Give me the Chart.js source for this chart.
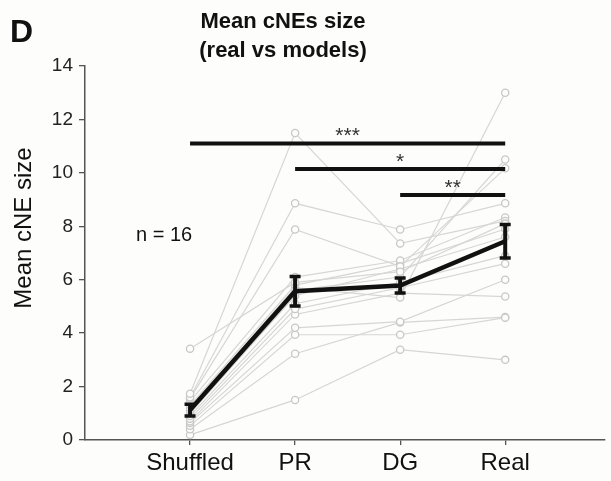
<!DOCTYPE html>
<html lang="en">

<head>
    <meta charset="UTF-8">
    <title>Mean cNEs size</title>
    <script src="https://cdn.jsdelivr.net/npm/chart.js"></script>
    <style>
        body {
            margin: 0;
            padding: 0;
            background: #fdfdfb;
        }

        .chart-box {
            position: relative;
            width: 611px;
            height: 481px;
        }
    </style>
</head>

<body>
    <div class="chart-box">
        <canvas id="sizeChart"></canvas>
    </div>

    <script>
        const categories = ['Shuffled', 'PR', 'DG', 'Real'];

        // one value per recording (n = 16), same order in every array
        const shuffledVals = [3.42, 1.73, 1.6, 1.55, 1.45, 1.3, 1.2, 1.1, 1.0, 0.9, 0.8, 0.7, 0.64, 0.53, 0.4, 0.19];
        const prVals = [5.9, 11.49, 8.86, 7.88, 6.1, 5.8, 5.7, 5.6, 5.4, 5.1, 4.9, 4.7, 4.2, 3.94, 3.23, 1.5];
        const dgVals = [6.3, 7.36, 7.88, 6.5, 6.72, 6.6, 5.33, 6.1, 6.4, 5.9, 5.7, 5.5, 4.43, 3.94, 4.4, 3.38];
        const realVals = [8.1, 8.2, 8.86, 10.17, 8.33, 7.9, 13.0, 10.5, 7.6, 6.9, 6.6, 5.37, 6.0, 4.58, 4.6, 3.0];

        // group mean and s.e.m.
        const meanVals = [1.12, 5.57, 5.78, 7.44];
        const semVals = [0.22, 0.55, 0.28, 0.63];

        // significance brackets
        const sigFrom = [1, 2, 3];
        const sigTo = [4, 4, 4];
        const sigLevel = [11.1, 10.14, 9.17];
        const sigText = ['***', '*', '**'];

        const yTicks = [0, 2, 4, 6, 8, 10, 12, 14];

        const font = 'Arial, "Liberation Sans", sans-serif';

        const subjectSets = shuffledVals.map((v, i) => ({
            data: [
                { x: 1, y: shuffledVals[i] },
                { x: 2, y: prVals[i] },
                { x: 3, y: dgVals[i] },
                { x: 4, y: realVals[i] }
            ],
            borderColor: '#d6d6d6',
            borderWidth: 1.2,
            pointRadius: 3.6,
            pointBorderColor: '#c8c8c8',
            pointBorderWidth: 1.3,
            pointBackgroundColor: '#fdfdfb',
            order: 2
        }));

        const meanSet = {
            data: meanVals.map((v, i) => ({ x: i + 1, y: v })),
            borderColor: '#111',
            borderWidth: 4.5,
            pointRadius: 0,
            order: 1
        };

        const sigSets = sigLevel.map((lv, i) => ({
            data: [{ x: sigFrom[i], y: lv }, { x: sigTo[i], y: lv }],
            borderColor: '#111',
            borderWidth: 4,
            borderCapStyle: 'butt',
            pointRadius: 0,
            order: 0
        }));

        // error bars, star labels and the free text around the plot
        const extras = {
            id: 'extras',
            afterDatasetsDraw(chart) {
                const ctx = chart.ctx;
                const xs = chart.scales.x;
                const ys = chart.scales.y;
                ctx.save();

                ctx.strokeStyle = '#111';
                ctx.lineCap = 'butt';
                meanVals.forEach((m, i) => {
                    const px = xs.getPixelForValue(i + 1);
                    const top = ys.getPixelForValue(m + semVals[i]);
                    const bot = ys.getPixelForValue(m - semVals[i]);
                    ctx.lineWidth = 4;
                    ctx.beginPath();
                    ctx.moveTo(px, top);
                    ctx.lineTo(px, bot);
                    ctx.stroke();
                    ctx.lineWidth = 3.5;
                    ctx.beginPath();
                    ctx.moveTo(px - 5.5, top);
                    ctx.lineTo(px + 5.5, top);
                    ctx.moveTo(px - 5.5, bot);
                    ctx.lineTo(px + 5.5, bot);
                    ctx.stroke();
                });

                ctx.fillStyle = '#333';
                ctx.font = '21px ' + font;
                ctx.textAlign = 'center';
                ctx.textBaseline = 'alphabetic';
                sigText.forEach((t, i) => {
                    const px = xs.getPixelForValue((sigFrom[i] + sigTo[i]) / 2);
                    const py = ys.getPixelForValue(sigLevel[i]);
                    ctx.fillText(t, px, py - 1);
                });

                ctx.fillStyle = '#111';
                ctx.font = '20px ' + font;
                ctx.textBaseline = 'middle';
                ctx.textAlign = 'left';
                ctx.fillText('n = 16', 136, 235);

                ctx.font = 'bold 22px ' + font;
                ctx.textAlign = 'center';
                ctx.fillText('Mean cNEs size', 283, 22);
                ctx.fillText('(real vs models)', 283, 51);

                ctx.font = 'bold 32px ' + font;
                ctx.textAlign = 'left';
                ctx.fillText('D', 10, 33);

                ctx.font = '24px ' + font;
                ctx.translate(24, 228);
                ctx.rotate(-Math.PI / 2);
                ctx.textAlign = 'center';
                ctx.fillText('Mean cNE size', 0, 0);
                ctx.restore();
            }
        };

        new Chart(document.getElementById('sizeChart'), {
            type: 'line',
            data: {
                datasets: [...subjectSets, meanSet, ...sigSets]
            },
            options: {
                responsive: true,
                maintainAspectRatio: false,
                animation: false,
                clip: false,
                layout: {
                    padding: { top: 66, right: 6, left: 0, bottom: 0 }
                },
                plugins: {
                    legend: { display: false },
                    tooltip: { enabled: false }
                },
                scales: {
                    x: {
                        type: 'linear',
                        min: 0,
                        max: 4.95,
                        afterBuildTicks(axis) {
                            axis.ticks = categories.map((c, i) => ({ value: i + 1 }));
                        },
                        afterFit(scale) {
                            scale.height = 41;
                        },
                        ticks: {
                            callback: (v) => categories[v - 1],
                            color: '#111',
                            font: { family: font, size: 24 },
                            padding: 4,
                            maxRotation: 0
                        },
                        grid: {
                            drawOnChartArea: false,
                            tickLength: 5,
                            color: '#555',
                            lineWidth: 1.3
                        },
                        border: { color: '#555', width: 1.5 }
                    },
                    y: {
                        min: 0,
                        max: 14,
                        afterBuildTicks(axis) {
                            axis.ticks = yTicks.map(v => ({ value: v }));
                        },
                        afterFit(scale) {
                            scale.width = 85;
                        },
                        ticks: {
                            color: '#222',
                            font: { family: font, size: 19 },
                            padding: 6
                        },
                        grid: {
                            drawOnChartArea: false,
                            tickLength: 6,
                            color: '#555',
                            lineWidth: 1.3
                        },
                        border: { color: '#555', width: 1.5 }
                    }
                }
            },
            plugins: [extras]
        });
    </script>
</body>

</html>
